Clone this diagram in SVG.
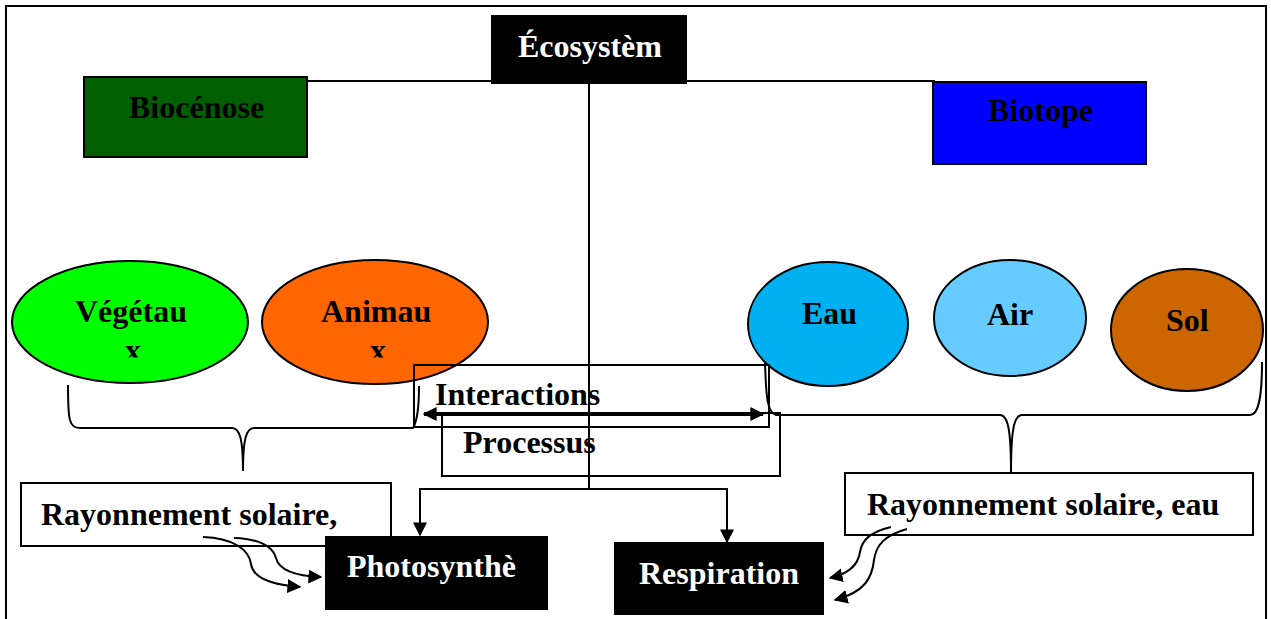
<svg xmlns="http://www.w3.org/2000/svg" width="1271" height="619" viewBox="0 0 1271 619">
<defs>
<style>
.t{font-family:"Liberation Serif","Times New Roman",serif;font-weight:bold;font-size:32px;fill:#000}
.w{fill:#fff}
.ln{fill:none;stroke:#000;stroke-width:2}
.bx{stroke:#000;stroke-width:2}
</style>
<clipPath id="cx"><rect x="0" y="0" width="1271" height="357.5"/></clipPath>
<marker id="ahb" viewBox="0 0 10 10" refX="9" refY="5" markerWidth="14" markerHeight="14" markerUnits="userSpaceOnUse" orient="auto"><path d="M0,0 L10,5 L0,10 z" fill="#000"/></marker>
<marker id="ahs" viewBox="0 0 10 10" refX="1" refY="5" markerWidth="14" markerHeight="14" markerUnits="userSpaceOnUse" orient="auto"><path d="M10,0 L0,5 L10,10 z" fill="#000"/></marker>
</defs>
<rect x="0" y="0" width="1271" height="619" fill="#fff"/>
<rect x="6" y="6" width="1260" height="640" class="ln"/>

<g id="connectors">
<line x1="307" y1="81" x2="935" y2="81" class="ln"/>
<line x1="589" y1="84" x2="589" y2="489" class="ln"/>
<line x1="419" y1="489" x2="728" y2="489" class="ln"/>
<line x1="420" y1="488" x2="420" y2="535" class="ln" marker-end="url(#ahb)"/>
<line x1="727" y1="488" x2="727" y2="542" class="ln" marker-end="url(#ahb)"/>
</g>

<g id="vegetaux"><ellipse cx="130" cy="322" rx="118" ry="61" fill="#00FF00" class="bx"/><text x="75" y="322" class="t">Végétau</text><text x="125" y="361" class="t" clip-path="url(#cx)">x</text></g>
<g id="animaux"><ellipse cx="375" cy="322" rx="113" ry="62" fill="#FF6600" class="bx"/><text x="321" y="322" class="t">Animau</text><text x="370" y="361" class="t" clip-path="url(#cx)">x</text></g>
<g id="eau"><ellipse cx="828" cy="324" rx="80" ry="62" fill="#00B0F0" class="bx"/><text x="802" y="324" class="t">Eau</text></g>
<g id="air"><ellipse cx="1010" cy="318" rx="76" ry="58" fill="#66CCFF" class="bx"/><text x="987" y="325" class="t">Air</text></g>
<g id="sol"><ellipse cx="1187" cy="330" rx="76" ry="61" fill="#CC6600" class="bx"/><text x="1166" y="331" class="t">Sol</text></g>

<g id="ecosysteme"><rect x="491" y="15" width="196" height="69" fill="#000"/><text x="518" y="57" class="t w">Écosystèm</text></g>
<g id="biocenose"><rect x="84" y="77" width="223" height="80" fill="#006000" class="bx"/><text x="129" y="118" class="t">Biocénose</text></g>
<g id="biotope"><rect x="933" y="82" width="213" height="82" fill="#0000FF" class="bx"/><text x="988" y="121" class="t">Biotope</text></g>

<g id="braces">
<path d="M68,385 C68,420 69,428 80,428 L232,428 C240,428 243,440 243,471 C243,440 246,428 254,428 L413,428 C418,420 419,400 419,386" class="ln"/>
<path d="M765,362 C766,395 767,413 776,415 L1000,415 C1008,415 1011,430 1011,473 C1011,430 1014,415 1022,415 L1250,415 C1258,415 1262,400 1262,362" class="ln"/>
</g>

<g id="interactions"><rect x="414" y="365" width="355" height="62" fill="none" class="bx"/><text x="435" y="405" class="t">Interactions</text>
<line x1="424" y1="414" x2="763" y2="414" stroke="#000" stroke-width="4" marker-start="url(#ahs)" marker-end="url(#ahb)"/></g>
<g id="processus"><rect x="442" y="413" width="338" height="63" fill="none" class="bx"/><text x="463" y="453" class="t">Processus</text></g>

<g id="rayonnement-gauche"><rect x="21" y="483" width="370" height="63" fill="#fff" class="bx"/><text x="41" y="525" class="t">Rayonnement solaire,</text></g>
<g id="rayonnement-droite"><rect x="845" y="473" width="408" height="62" fill="#fff" class="bx"/><text x="867" y="515" class="t">Rayonnement solaire, eau</text></g>

<g id="photosynthese"><rect x="325" y="536" width="223" height="74" fill="#000"/><text x="347" y="577" class="t w">Photosynthè</text></g>
<g id="respiration"><rect x="614" y="542" width="210" height="73" fill="#000"/><text x="639" y="584" class="t w">Respiration</text></g>

<g id="wavy-arrows">
<path d="M203,537 C232,538 249,549 251,564 C253,578 272,585 300,587" class="ln" marker-end="url(#ahb)"/>
<path d="M234,538 C262,539 273,548 276,558 C279,570 295,576 321,577" class="ln" marker-end="url(#ahb)"/>
<path d="M891,527 C870,532 862,540 860,552 C858,566 848,574 830,578" class="ln" marker-end="url(#ahb)"/>
<path d="M907,529 C885,535 876,545 874,560 C872,578 865,592 835,600" class="ln" marker-end="url(#ahb)"/>
</g>
</svg>
